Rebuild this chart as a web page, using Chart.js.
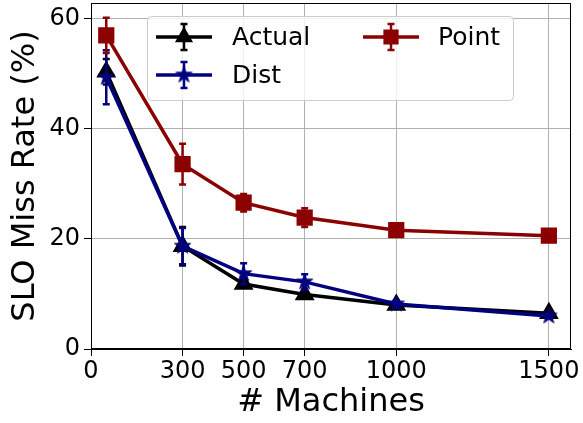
<!DOCTYPE html>
<html>
<head>
<meta charset="utf-8">
<script src="https://cdn.jsdelivr.net/npm/chart.js@4.4.1/dist/chart.umd.min.js"></script>
<style>
  html, body { margin: 0; padding: 0; background: #fff; }
  #chart { display: block; }
</style>
</head>
<body>
<canvas id="chart" width="583" height="423"></canvas>
<script>
// values
const machines  = [50, 300, 500, 700, 1000, 1500];
const actual    = [50.4, 18.7, 11.8, 9.9, 8.0, 6.5];
const actualErr = [2.3, 3.5, 0.6, 0.5, 0.4, 0.3];
const dist      = [49.4, 18.7, 13.7, 12.2, 8.2, 6.0];
const distErr   = [4.9, 3.3, 1.9, 1.4, 0.6, 0.4];
const point     = [57.0, 33.6, 26.6, 23.9, 21.6, 20.6];
const pointErr  = [3.2, 3.7, 1.6, 1.7, 1.0, 0.5];

const xTicks = [0, 300, 500, 700, 1000, 1500];
const yTicks = [0, 20, 40, 60];

const FONT = "'DejaVu Sans', sans-serif";
const BLACK = '#000000';
const NAVY = '#000080';
const DARKRED = '#8b0000';

function starMarker(color, r) {
  const c = document.createElement('canvas');
  const size = Math.ceil(r * 2 + 4);
  c.width = size;
  c.height = size;
  const g = c.getContext('2d');
  const cx = size / 2, cy = size / 2;
  g.beginPath();
  for (let i = 0; i < 10; i++) {
    const rad = i % 2 === 0 ? r : r * 0.382;
    const a = -Math.PI / 2 + i * Math.PI / 5;
    const px = cx + rad * Math.cos(a);
    const py = cy + rad * Math.sin(a);
    if (i === 0) g.moveTo(px, py); else g.lineTo(px, py);
  }
  g.closePath();
  g.fillStyle = color;
  g.fill();
  g.lineWidth = 1;
  g.strokeStyle = color;
  g.stroke();
  return c;
}

function toPoints(ys) {
  return machines.map((m, i) => ({ x: m, y: ys[i] }));
}

const star = starMarker(NAVY, 8.5);

// error bars, drawn just under each dataset's own line
const errorBars = {
  id: 'errorBars',
  beforeDatasetDraw(chart, args) {
    const ds = chart.data.datasets[args.index];
    if (!ds.errors) return;
    const xs = chart.scales.x, ys = chart.scales.y;
    const ctx = chart.ctx;
    const cap = 3.5;
    ctx.save();
    ctx.strokeStyle = ds.borderColor;
    ctx.lineWidth = 2.5;
    ds.data.forEach((p, i) => {
      const px = xs.getPixelForValue(p.x);
      const top = ys.getPixelForValue(p.y + ds.errors[i]);
      const bot = ys.getPixelForValue(p.y - ds.errors[i]);
      ctx.beginPath();
      ctx.moveTo(px, top); ctx.lineTo(px, bot);
      ctx.moveTo(px - cap, top); ctx.lineTo(px + cap, top);
      ctx.moveTo(px - cap, bot); ctx.lineTo(px + cap, bot);
      ctx.stroke();
    });
    ctx.restore();
  }
};

// full box round the plot, like matplotlib spines
const frame = {
  id: 'frame',
  afterDatasetsDraw(chart) {
    const { left, top, right, bottom } = chart.chartArea;
    const ctx = chart.ctx;
    ctx.save();
    ctx.strokeStyle = '#000';
    ctx.lineWidth = 1;
    ctx.strokeRect(Math.round(left) + 0.5, Math.round(top) + 0.5,
                   Math.round(right - left) - 1, Math.round(bottom - top) - 1);
    ctx.restore();
  }
};

// two-column legend box inside the plot
const legendBox = {
  id: 'legendBox',
  afterDraw(chart) {
    const ctx = chart.ctx;
    const slots = [
      { idx: 0, x: 156, y: 37 },
      { idx: 1, x: 156, y: 75 },
      { idx: 2, x: 363, y: 37 }
    ];
    ctx.save();
    ctx.beginPath();
    ctx.roundRect(147.5, 16.5, 366, 84, 4);
    ctx.fillStyle = 'rgba(255,255,255,0.8)';
    ctx.fill();
    ctx.strokeStyle = '#cccccc';
    ctx.lineWidth = 1;
    ctx.stroke();

    slots.forEach(s => {
      const ds = chart.data.datasets[s.idx];
      const mid = s.x + 28;
      ctx.strokeStyle = ds.borderColor;
      ctx.lineWidth = 3.5;
      ctx.beginPath();
      ctx.moveTo(s.x, s.y);
      ctx.lineTo(s.x + 56, s.y);
      ctx.stroke();
      ctx.lineWidth = 2.5;
      ctx.beginPath();
      ctx.moveTo(mid, s.y - 13); ctx.lineTo(mid, s.y + 13);
      ctx.moveTo(mid - 3.5, s.y - 13); ctx.lineTo(mid + 3.5, s.y - 13);
      ctx.moveTo(mid - 3.5, s.y + 13); ctx.lineTo(mid + 3.5, s.y + 13);
      ctx.stroke();
      ctx.fillStyle = ds.pointBackgroundColor;
      ctx.strokeStyle = ds.pointBorderColor;
      Chart.helpers.drawPoint(ctx, {
        pointStyle: ds.pointStyle,
        radius: ds.pointRadius,
        rotation: 0,
        borderWidth: 1
      }, mid, s.y);
      ctx.fillStyle = '#000';
      ctx.font = '25px ' + FONT;
      ctx.textBaseline = 'middle';
      ctx.textAlign = 'left';
      ctx.fillText(ds.label, s.x + (s.idx === 2 ? 75 : 76), s.y + 1);
    });
    ctx.restore();
  }
};

new Chart(document.getElementById('chart'), {
  type: 'line',
  data: {
    datasets: [
      {
        label: 'Actual',
        data: toPoints(actual),
        errors: actualErr,
        borderColor: BLACK,
        backgroundColor: BLACK,
        pointBackgroundColor: BLACK,
        pointBorderColor: BLACK,
        pointStyle: 'triangle',
        pointRadius: 8,
        borderWidth: 3.5,
        order: 3
      },
      {
        label: 'Dist',
        data: toPoints(dist),
        errors: distErr,
        borderColor: NAVY,
        backgroundColor: NAVY,
        pointBackgroundColor: NAVY,
        pointBorderColor: NAVY,
        pointStyle: star,
        pointRadius: 8,
        borderWidth: 3.5,
        order: 2
      },
      {
        label: 'Point',
        data: toPoints(point),
        errors: pointErr,
        borderColor: DARKRED,
        backgroundColor: DARKRED,
        pointBackgroundColor: DARKRED,
        pointBorderColor: DARKRED,
        pointStyle: 'rect',
        pointRadius: 9,
        borderWidth: 3.5,
        order: 1
      }
    ]
  },
  options: {
    responsive: false,
    devicePixelRatio: 1,
    animation: false,
    layout: { autoPadding: false, padding: { left: 0, right: 12, top: 3, bottom: 0 } },
    elements: { line: { tension: 0, fill: false } },
    plugins: {
      legend: { display: false },
      tooltip: { enabled: false }
    },
    scales: {
      x: {
        type: 'linear',
        min: 0,
        max: 1572.5,
        afterBuildTicks: scale => { scale.ticks = xTicks.map(v => ({ value: v })); },
        afterFit: scale => {
          scale.height = 74;
          scale.paddingLeft = 0;
          scale.paddingRight = 0;
        },
        ticks: {
          color: '#000',
          font: { family: FONT, size: 24 },
          padding: 1,
          maxRotation: 0,
          autoSkip: false,
          callback: v => String(v)
        },
        grid: { color: '#b0b0b0', lineWidth: 1, tickColor: '#000', tickLength: 7 },
        border: { color: '#000', width: 1 },
        title: {
          display: true,
          text: '# Machines',
          color: '#000',
          font: { family: FONT, size: 32 },
          padding: { top: 0, bottom: 1 }
        }
      },
      y: {
        min: 0,
        max: 62.9,
        afterBuildTicks: scale => { scale.ticks = yTicks.map(v => ({ value: v })); },
        afterFit: scale => {
          scale.width = 91;
          scale.paddingTop = 0;
          scale.paddingBottom = 0;
        },
        ticks: {
          color: '#000',
          font: { family: FONT, size: 24 },
          padding: 4,
          callback: v => String(v)
        },
        grid: { color: '#b0b0b0', lineWidth: 1, tickColor: '#000', tickLength: 7 },
        border: { color: '#000', width: 1 },
        title: {
          display: true,
          text: 'SLO Miss Rate (%)',
          color: '#000',
          font: { family: FONT, size: 32 },
          padding: { top: 6, bottom: 0 }
        }
      }
    }
  },
  plugins: [errorBars, frame, legendBox]
});
</script>
</body>
</html>
